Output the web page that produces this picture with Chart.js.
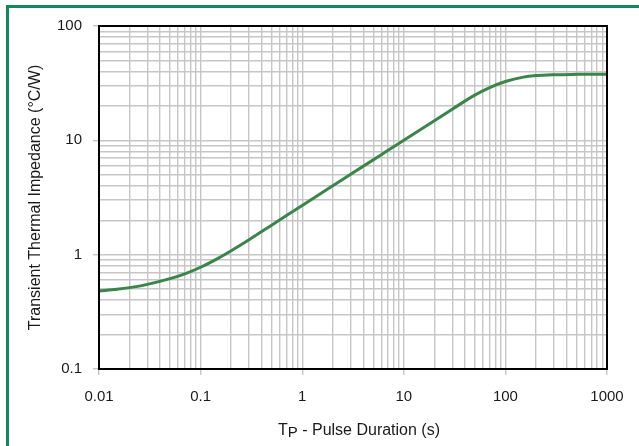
<!DOCTYPE html>
<html><head><meta charset="utf-8">
<script src="https://cdn.jsdelivr.net/npm/chart.js@4"></script>
<style>
html,body{margin:0;padding:0;background:#fff;}
#wrap{position:relative;width:639px;height:446px;overflow:hidden;background:#fff;}
#frame{position:absolute;left:6px;top:5px;width:700px;height:500px;border-top:3px solid #12875b;border-left:3px solid #12875b;}
canvas{position:absolute;left:0;top:0;}
</style></head><body>
<div id="wrap"><div id="frame"></div><canvas id="c" width="639" height="446"></canvas></div>
<script>
// ---- data ----
const pulseDuration = [0.01,0.015,0.02,0.03,0.05,0.07,0.1,0.15,0.2,0.3,0.5,0.7,1,2,3,5,7,10,20,30,50,70,100,150,200,300,500,700,1000];
const impedance     = [0.481,0.498,0.515,0.550,0.617,0.680,0.776,0.933,1.082,1.351,1.811,2.199,2.696,4.002,5.041,6.745,8.173,10.01,14.86,18.73,24.84,28.88,32.67,35.71,36.83,37.48,37.75,37.82,37.84];
const xTickLabels = ['0.01','0.1','1','10','100','1000'];
const yTickLabels = ['0.1','1','10','100'];
const xTitleMain = 'T';
const xTitleSub = 'P';
const xTitleRest = ' - Pulse Duration (s)';
const yTitle = 'Transient Thermal Impedance (\u00B0C/W)';

const FONT = "'Liberation Sans', Arial, sans-serif";
Chart.defaults.font.family = FONT;

function isPow10(v){ const l = Math.log10(v); return Math.abs(l - Math.round(l)) < 1e-6; }
function logTicks(min, max){
  const out = [];
  for (let e = Math.round(Math.log10(min)); e < Math.round(Math.log10(max)); e++) {
    for (let k = 1; k <= 9; k++) out.push(parseFloat((k * Math.pow(10, e)).toPrecision(6)));
  }
  out.push(max);
  return out;
}
function labelFor(labels, v){
  const l = labels.find(s => Math.abs(Math.log10(Number(s)) - Math.log10(v)) < 1e-6);
  return l === undefined ? '' : l;
}

const points = pulseDuration.map((x, i) => ({x, y: impedance[i]}));
const GRID = '#c6c6c6';

const framePlugin = {
  id: 'frameAndTitles',
  afterDraw(chart){
    const {ctx, chartArea: a} = chart;
    ctx.save();
    ctx.strokeStyle = '#000';
    ctx.lineWidth = 2;
    ctx.strokeRect(a.left, a.top, a.right - a.left, a.bottom - a.top);
    ctx.fillStyle = '#1a1a1a';
    // y title
    ctx.save();
    ctx.translate(40, (a.top + a.bottom) / 2);
    ctx.rotate(-Math.PI / 2);
    ctx.font = '16px ' + FONT;
    ctx.textAlign = 'center';
    ctx.textBaseline = 'alphabetic';
    ctx.fillText(yTitle, 0, 0);
    ctx.restore();
    // x title with subscript
    ctx.textBaseline = 'alphabetic';
    ctx.textAlign = 'left';
    const mainF = '16px ' + FONT, subF = '15px ' + FONT;
    ctx.font = mainF; const w1 = ctx.measureText(xTitleMain).width;
    const w3 = ctx.measureText(xTitleRest).width;
    ctx.font = subF; const w2 = ctx.measureText(xTitleSub).width;
    const total = w1 + w2 + w3;
    let x = 359 - total / 2;
    const base = 435;
    ctx.font = mainF; ctx.fillText(xTitleMain, x, base); x += w1;
    ctx.font = subF; ctx.fillText(xTitleSub, x, base + 2); x += w2;
    ctx.font = mainF; ctx.fillText(xTitleRest, x, base);
    ctx.restore();
  }
};

new Chart(document.getElementById('c'), {
  type: 'scatter',
  data: {
    datasets: [{
      data: points,
      showLine: true,
      borderColor: '#3a8549',
      borderWidth: 3,
      pointRadius: 0,
      cubicInterpolationMode: 'monotone',
      fill: false
    }]
  },
  options: {
    responsive: false,
    animation: false,
    devicePixelRatio: 1,
    layout: { padding: { left: 0, right: 32, top: 26, bottom: 0 } },
    plugins: { legend: { display: false }, tooltip: { enabled: false } },
    scales: {
      x: {
        type: 'logarithmic',
        min: 0.01, max: 1000,
        afterBuildTicks: (axis) => { axis.ticks = logTicks(0.01, 1000).map(v => ({value: v, major: isPow10(v)})); },
        afterFit: (axis) => { axis.height = 77; },
        ticks: {
          autoSkip: false, maxRotation: 0, minRotation: 0,
          padding: 13, color: '#1a1a1a', font: { size: 15 },
          callback: (v) => labelFor(xTickLabels, v)
        },
        grid: {
          color: GRID, lineWidth: 1.4, tickLength: 6,
          tickColor: (c) => (c.tick && isPow10(c.tick.value)) ? GRID : 'rgba(0,0,0,0)'
        },
        border: { display: false }
      },
      y: {
        type: 'logarithmic',
        min: 0.1, max: 100,
        afterBuildTicks: (axis) => { axis.ticks = logTicks(0.1, 100).map(v => ({value: v, major: isPow10(v)})); },
        afterFit: (axis) => { axis.width = 99; },
        ticks: {
          autoSkip: false, padding: 11, color: '#1a1a1a', font: { size: 15 },
          callback: (v) => labelFor(yTickLabels, v)
        },
        grid: {
          color: GRID, lineWidth: 1.4, tickLength: 6,
          tickColor: (c) => (c.tick && isPow10(c.tick.value)) ? GRID : 'rgba(0,0,0,0)'
        },
        border: { display: false }
      }
    }
  },
  plugins: [framePlugin]
});
</script>
</body></html>
